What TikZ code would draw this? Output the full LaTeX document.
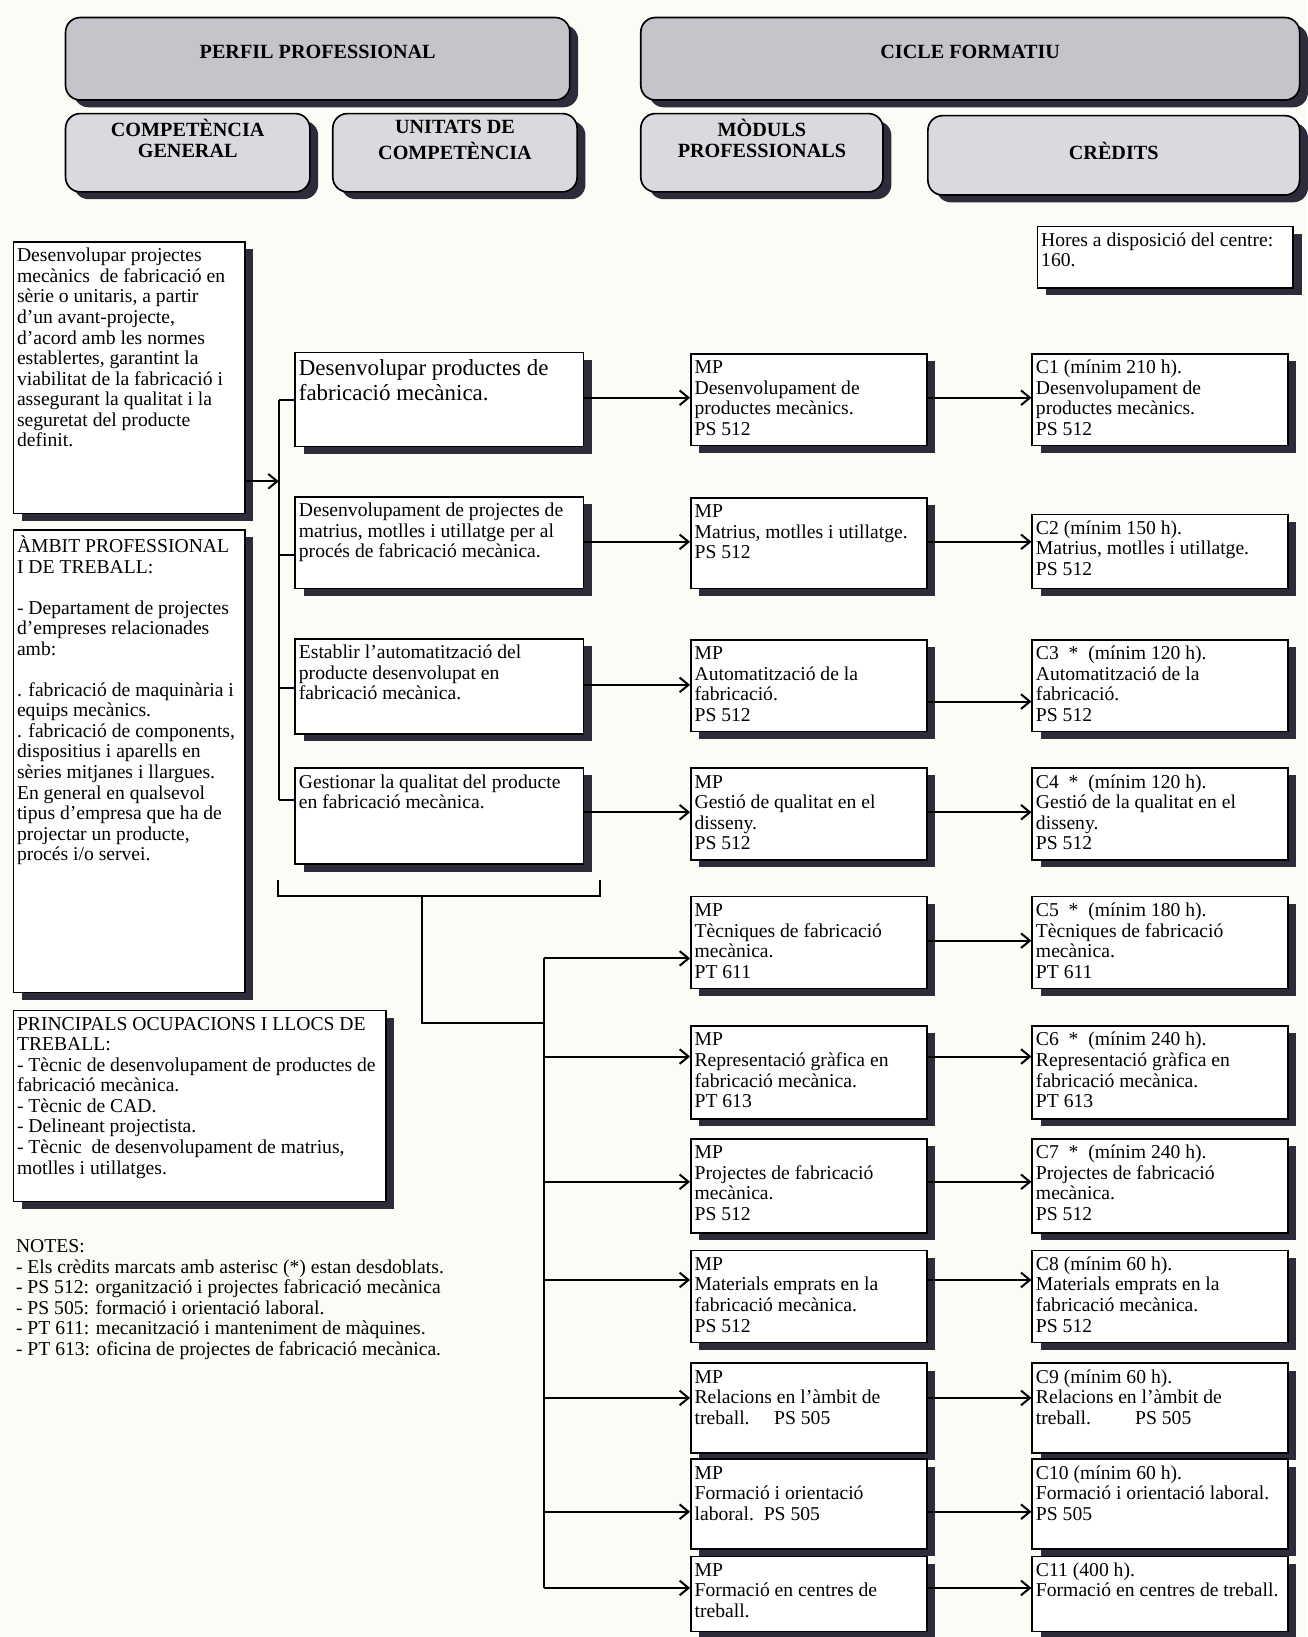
\documentclass[tikz,border=0pt]{standalone}
\usepackage{fontspec}
\setmainfont{Liberation Serif}
\usepackage{tikz}
\usetikzlibrary{arrows.meta,shadows}

\definecolor{shd}{RGB}{44,44,58}
\definecolor{topgray}{RGB}{196,197,202}
\definecolor{subgray}{RGB}{218,218,222}
\definecolor{paper}{RGB}{252,252,246}

\newlength{\pxu}
\setlength{\pxu}{0.02cm}
\newcommand{\celltxt}[3]{\parbox[t][#2\pxu][t]{#1\pxu}{\raggedright\leftskip=2pt\vspace*{3pt}\strut#3}}
\newcommand{\headtxt}[4]{\parbox[t][#2\pxu][t]{#1\pxu}{\centering\vspace*{#3}\strut#4}}

\begin{document}
\begin{tikzpicture}[x=0.02cm, y=-0.02cm, >={Straight Barb[length=1.7mm, width=2.8mm]},
        shadowed/.style={drop shadow={shadow xshift=0.16cm, shadow yshift=-0.14cm, opacity=1, fill=shd}},
        head/.style={draw, line width=0.9pt, rounded corners=0.28cm, inner sep=0pt, anchor=north west, shadowed, font=\fontsize{11}{11.4}\selectfont\bfseries},
        cell/.style={draw, line width=0.9pt, fill=white, inner sep=0pt, anchor=north west, shadowed, font=\fontsize{10.7}{11.2}\selectfont},
        link/.style={line width=1.1pt}]
            \fill[paper] (0, 0) rectangle (1252, 1568);
            \useasboundingbox (0, 0) rectangle (1252, 1568);

            \node[head, fill=topgray] (hpp) at (62, 16) {\headtxt{483}{79}{14.4pt}{PERFIL PROFESSIONAL}};
            \node[head, fill=topgray] (hcf) at (613, 16) {\headtxt{631}{79}{14.4pt}{CICLE FORMATIU}};
            \node[head, fill=subgray] (hcg) at (62, 108) {\headtxt{234}{75}{3pt}{COMPETÈNCIA\\GENERAL}};
            \node[head, fill=subgray] (huc) at (318, 108) {\headtxt{234}{75}{3pt}{UNITATS DE\\COMPETÈNCIA}};
            \node[head, fill=subgray] (hmp) at (613, 108) {\headtxt{232}{75}{3pt}{MÒDULS\\PROFESSIONALS}};
            \node[head, fill=subgray] (hcr) at (888, 110) {\headtxt{356}{76}{14.4pt}{CRÈDITS}};

            \node[cell] (hor) at (993, 216) {\celltxt{245}{59}{Hores a disposició del centre:\\160.}};

            \node[cell] (gen) at (12, 231) {\celltxt{222}{260}{Desenvolupar projectes\\mecànics\ \ de fabricació en\\sèrie o unitaris, a partir\\d’un avant-projecte,\\d’acord amb les normes\\establertes, garantint la\\viabilitat de la fabricació i\\assegurant la qualitat i la\\seguretat del producte\\definit.}};
            \node[cell] (amb) at (12, 507) {\celltxt{222}{443}{ÀMBIT PROFESSIONAL\\I DE TREBALL:\\[11.2pt]- Departament de projectes\\d’empreses relacionades\\amb:\\[11.2pt]. fabricació de maquinària i\\equips mecànics.\\. fabricació de components,\\dispositius i aparells en\\sèries mitjanes i llargues.\\En general en qualsevol\\tipus d’empresa que ha de\\projectar un producte,\\procés i/o servei.}};
            \node[cell] (ocu) at (12, 967) {\celltxt{357}{183}{PRINCIPALS OCUPACIONS I LLOCS DE\\TREBALL:\\- Tècnic de desenvolupament de productes de\\fabricació mecànica.\\- Tècnic de CAD.\\- Delineant projectista.\\- Tècnic\ \ de desenvolupament de matrius,\\motlles i utillatges.}};
            \node[inner sep=0pt, anchor=north west, align=left, font=\fontsize{10.7}{11.2}\selectfont] (nts) at (15, 1187) {NOTES:\\- Els crèdits marcats amb asterisc (*) estan desdoblats.\\- PS 512: organització i projectes fabricació mecànica\\- PS 505: formació i orientació laboral.\\- PT 611: mecanització i manteniment de màquines.\\- PT 613: oficina de projectes de fabricació mecànica.};

            \node[cell, font=\fontsize{12.5}{13.6}\selectfont] (u1) at (282, 337) {\celltxt{276}{90}{Desenvolupar productes de\\fabricació mecànica.}};
            \node[cell] (u2) at (282, 475) {\celltxt{276}{88}{Desenvolupament de projectes de\\matrius, motlles i utillatge per al\\procés de fabricació mecànica.}};
            \node[cell] (u3) at (282, 611) {\celltxt{276}{91}{Establir l’automatització del\\producte desenvolupat en\\fabricació mecànica.}};
            \node[cell] (u4) at (282, 735) {\celltxt{276}{92}{Gestionar la qualitat del producte\\en fabricació mecànica.}};

            \node[cell] (m1) at (661, 338) {\celltxt{226}{88}{MP\\Desenvolupament de\\productes mecànics.\\PS 512}};
            \node[cell] (m2) at (661, 476) {\celltxt{226}{87}{MP\\Matrius, motlles i utillatge.\\PS 512}};
            \node[cell] (m3) at (661, 612) {\celltxt{226}{88}{MP\\Automatització de la\\fabricació.\\PS 512}};
            \node[cell] (m4) at (661, 735) {\celltxt{226}{88}{MP\\Gestió de qualitat en el\\disseny.\\PS 512}};
            \node[cell] (m5) at (661, 858) {\celltxt{226}{88}{MP\\Tècniques de fabricació\\mecànica.\\PT 611}};
            \node[cell] (m6) at (661, 982) {\celltxt{226}{89}{MP\\Representació gràfica en\\fabricació mecànica.\\PT 613}};
            \node[cell] (m7) at (661, 1090) {\celltxt{226}{90}{MP\\Projectes de fabricació\\mecànica.\\PS 512}};
            \node[cell] (m8) at (661, 1197) {\celltxt{226}{88}{MP\\Materials emprats en la\\fabricació mecànica.\\PS 512}};
            \node[cell] (m9) at (661, 1305) {\celltxt{226}{86}{MP\\Relacions en l’àmbit de\\treball.\quad\ PS 505}};
            \node[cell] (m10) at (661, 1397) {\celltxt{226}{86}{MP\\Formació i orientació\\laboral.\ \ PS 505}};
            \node[cell] (m11) at (661, 1490) {\celltxt{226}{72}{MP\\Formació en centres de\\treball.}};

            \node[cell] (c1) at (988, 338) {\celltxt{245}{88}{C1 (mínim 210 h).\\Desenvolupament de\\productes mecànics.\\PS 512}};
            \node[cell] (c2) at (988, 492) {\celltxt{245}{71}{C2 (mínim 150 h).\\Matrius, motlles i utillatge.\\PS 512}};
            \node[cell] (c3) at (988, 612) {\celltxt{245}{88}{C3\ \ *\ \ (mínim 120 h).\\Automatització de la\\fabricació.\\PS 512}};
            \node[cell] (c4) at (988, 735) {\celltxt{245}{88}{C4\ \ *\ \ (mínim 120 h).\\Gestió de la qualitat en el\\disseny.\\PS 512}};
            \node[cell] (c5) at (988, 858) {\celltxt{245}{88}{C5\ \ *\ \ (mínim 180 h).\\Tècniques de fabricació\\mecànica.\\PT 611}};
            \node[cell] (c6) at (988, 982) {\celltxt{245}{89}{C6\ \ *\ \ (mínim 240 h).\\Representació gràfica en\\fabricació mecànica.\\PT 613}};
            \node[cell] (c7) at (988, 1090) {\celltxt{245}{90}{C7\ \ *\ \ (mínim 240 h).\\Projectes de fabricació\\mecànica.\\PS 512}};
            \node[cell] (c8) at (988, 1197) {\celltxt{245}{88}{C8 (mínim 60 h).\\Materials emprats en la\\fabricació mecànica.\\PS 512}};
            \node[cell] (c9) at (988, 1305) {\celltxt{245}{86}{C9 (mínim 60 h).\\Relacions en l’àmbit de\\treball.\qquad\ PS 505}};
            \node[cell] (c10) at (988, 1397) {\celltxt{245}{86}{C10 (mínim 60 h).\\Formació i orientació laboral.\\PS 505}};
            \node[cell] (c11) at (988, 1490) {\celltxt{245}{72}{C11 (400 h).\\Formació en centres de treball.}};

            \coordinate (t1) at (267, 383);
            \coordinate (t2) at (267, 532);
            \coordinate (t3) at (267, 659);
            \coordinate (t4) at (267, 766);
            \coordinate (ta) at (267, 461);
            \draw[link] (t1) -- (t4);
            \draw[link] (t1) -- (u1.west |- t1);
            \draw[link] (t2) -- (u2.west |- t2);
            \draw[link] (t3) -- (u3.west |- t3);
            \draw[link] (t4) -- (u4.west |- t4);
            \draw[link, ->] (gen.east |- ta) -- (ta);

            \coordinate (y1) at (0, 381);
            \coordinate (y2) at (0, 519);
            \coordinate (y3) at (0, 656);
            \coordinate (z3) at (0, 672);
            \coordinate (y4) at (0, 778);
            \draw[link, ->] (u1.east |- y1) -- (m1.west |- y1);
            \draw[link, ->] (u2.east |- y2) -- (m2.west |- y2);
            \draw[link, ->] (u3.east |- y3) -- (m3.west |- y3);
            \draw[link, ->] (u4.east |- y4) -- (m4.west |- y4);
            \draw[link, ->] (m1.east |- y1) -- (c1.west |- y1);
            \draw[link, ->] (m2.east |- y2) -- (c2.west |- y2);
            \draw[link, ->] (m3.east |- z3) -- (c3.west |- z3);
            \draw[link, ->] (m4.east |- y4) -- (c4.west |- y4);

            \coordinate (b1) at (266, 843);
            \coordinate (b2) at (575, 843);
            \coordinate (b3) at (404, 858);
            \coordinate (b4) at (521, 980);
            \draw[link] (b1) |- (b2 |- b3) -- (b2);
            \draw[link] (b3) |- (b4);

            \coordinate (s5) at (521, 918);
            \coordinate (s6) at (521, 1012);
            \coordinate (s7) at (521, 1132);
            \coordinate (s8) at (521, 1226);
            \coordinate (s9) at (521, 1339);
            \coordinate (s10) at (521, 1448);
            \coordinate (s11) at (521, 1521);
            \coordinate (z5) at (0, 901);
            \draw[link] (s5) -- (s11);
            \draw[link, ->] (s5) -- (m5.west |- s5);
            \draw[link, ->] (s6) -- (m6.west |- s6);
            \draw[link, ->] (s7) -- (m7.west |- s7);
            \draw[link, ->] (s8) -- (m8.west |- s8);
            \draw[link, ->] (s9) -- (m9.west |- s9);
            \draw[link, ->] (s10) -- (m10.west |- s10);
            \draw[link, ->] (s11) -- (m11.west |- s11);
            \draw[link, ->] (m5.east |- z5) -- (c5.west |- z5);
            \draw[link, ->] (m6.east |- s6) -- (c6.west |- s6);
            \draw[link, ->] (m7.east |- s7) -- (c7.west |- s7);
            \draw[link, ->] (m8.east |- s8) -- (c8.west |- s8);
            \draw[link, ->] (m9.east |- s9) -- (c9.west |- s9);
            \draw[link, ->] (m10.east |- s10) -- (c10.west |- s10);
            \draw[link, ->] (m11.east |- s11) -- (c11.west |- s11);
\end{tikzpicture}
\end{document}
